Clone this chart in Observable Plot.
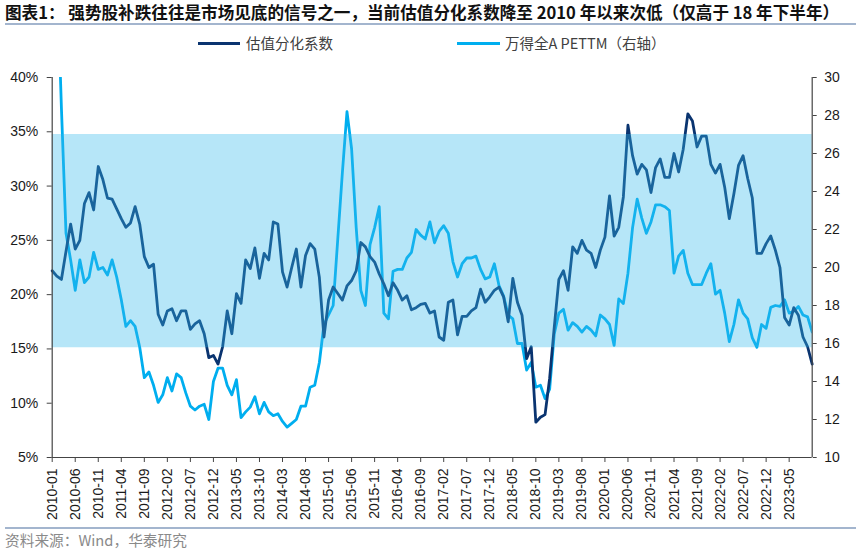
<!DOCTYPE html>
<html>
<head>
<meta charset="utf-8">
<script src="https://cdn.jsdelivr.net/npm/d3@7"></script>
<script src="https://cdn.jsdelivr.net/npm/@observablehq/plot@0.6"></script>
<style>
  body { margin:0; width:864px; height:552px; position:relative; background:#fff; overflow:hidden; }
  .abs { position:absolute; }
  #title { left:5px; top:2px; font-family:"Noto Sans CJK SC", sans-serif; font-weight:700; font-size:16.6px; color:#111; white-space:nowrap; line-height:20px; }
  .sep { left:5px; width:851px; height:2px; background:#a3b5ce; }
  .leg { top:33px; font-family:"Noto Sans CJK SC", sans-serif; font-size:14.5px; color:#404040; line-height:20px; white-space:nowrap; }
  .sw { position:absolute; height:3.5px; top:41.5px; }
  #foot { left:5px; top:530px; font-family:"Noto Sans CJK SC", sans-serif; font-size:14.7px; color:#8a8a8a; line-height:20px; white-space:nowrap; }
  #chart { left:0; top:60px; }
</style>
</head>
<body>
<div id="title" class="abs">图表1： 强势股补跌往往是市场见底的信号之一，当前估值分化系数降至 2010 年以来次低（仅高于 18 年下半年）</div>
<div class="abs sep" style="top:23px"></div>
<div class="sw" style="left:198px;width:42px;background:#0a3470"></div>
<div class="abs leg" style="left:246px">估值分化系数</div>
<div class="sw" style="left:457px;width:43px;background:#00aeef"></div>
<div class="abs leg" style="left:505px">万得全A PETTM（右轴）</div>
<div id="chart" class="abs"></div>
<div class="abs sep" style="top:527px"></div>
<div id="foot" class="abs">资料来源：Wind，华泰研究</div>
<script>
// 估值分化系数 (%), monthly from 2010-01 to 2023-10
const dispersion = [
 22.2,21.7,21.4,24.0,26.5,24.2,25.0,28.4,29.4,27.8,
 31.8,30.6,28.9,28.8,27.9,27.0,26.2,26.6,28.1,26.5,
 23.5,22.5,22.8,18.2,17.2,18.5,18.7,17.6,18.5,18.5,
 16.8,17.3,17.6,16.4,14.2,14.4,13.6,15.2,18.5,16.4,
 20.1,19.2,23.2,22.4,24.3,21.5,23.8,23.2,26.7,26.5,
 22.1,20.7,22.5,24.2,20.7,23.6,24.7,24.2,21.6,16.1,
 19.5,20.7,20.1,19.5,20.8,21.3,22.2,24.8,24.4,23.5,
 23.0,21.9,21.0,19.9,21.1,20.4,19.5,19.9,18.6,18.8,
 19.1,19.2,18.3,18.5,16.1,15.8,19.3,19.5,16.3,18.0,
 18.0,18.5,18.8,20.5,19.3,19.8,20.4,20.7,19.8,17.5,
 21.5,19.3,18.1,14.1,15.2,8.25,8.7,8.95,12.3,17.0,
 21.4,22.2,20.4,24.4,23.8,25.0,24.1,23.8,22.5,24.1,
 25.3,29.1,25.4,26.2,29.0,35.6,32.8,31.1,32.0,31.5,
 29.4,31.7,32.5,30.8,30.8,33.0,31.3,33.4,36.65,36.0,
 33.6,34.6,34.6,32.0,31.2,32.0,29.9,27.0,29.3,31.9,
 32.8,30.7,28.9,23.8,23.8,24.7,25.4,24.1,22.5,17.9,
 17.2,18.8,18.1,16.1,15.2,13.6
];
// 万得全A PETTM (right axis)
const pettm = [
 38,36,28.4,21.8,20.4,18.8,20.4,19.2,19.5,20.8,
 19.9,20.0,19.6,20.4,19.5,18.3,16.9,17.2,16.9,15.8,
 14.2,14.5,13.8,12.9,13.3,14.2,13.5,14.4,14.2,13.4,
 12.7,12.5,12.7,12.8,12.0,14.0,14.7,14.7,13.8,13.3,
 14.1,12.1,12.4,12.65,13.2,12.3,12.9,12.4,12.2,12.3,
 11.9,11.6,11.8,12.0,12.7,12.7,13.7,13.8,15.0,17.0,
 17.5,18.0,21.5,25.0,28.2,26.25,22.1,18.8,18.0,21.2,
 22.1,23.2,17.6,17.3,19.8,19.9,19.9,20.5,20.8,22.0,
 21.7,21.5,22.4,21.3,21.9,22.2,21.8,20.3,19.5,20.2,
 20.5,20.5,20.6,19.9,19.4,19.5,20.2,19.05,18.5,17.5,
 17.3,16.0,16.0,14.6,15.0,13.7,13.8,13.1,13.6,16.5,
 17.6,17.8,16.7,17.1,16.9,16.6,16.9,16.7,16.4,17.5,
 17.3,17.0,15.9,18.35,18.1,19.7,22.1,23.6,22.6,21.8,
 22.4,23.3,23.3,23.2,23.0,19.7,20.6,20.9,19.7,19.1,
 19.1,19.1,19.7,20.2,18.6,18.8,17.6,16.1,17.0,18.3,
 17.6,17.3,16.3,15.8,17.0,16.8,17.9,18.0,17.95,18.3,
 17.6,17.7,17.95,17.5,17.4,16.6
];
const xTicks = ["2010-01","2010-06","2010-11","2011-04","2011-09","2012-02","2012-07","2012-12",
 "2013-05","2013-10","2014-03","2014-08","2015-01","2015-06","2015-11","2016-04","2016-09",
 "2017-02","2017-07","2017-12","2018-05","2018-10","2019-03","2019-08","2020-01","2020-06",
 "2020-11","2021-04","2021-09","2022-02","2022-07","2022-12","2023-05"];
const leftTicks = [5,10,15,20,25,30,35,40];
const rightTicks = [10,12,14,16,18,20,22,24,26,28,30];
const band = [15.1, 34.75];

const months = [];
for (let i = 0; i < dispersion.length; i++) {
  const y = 2010 + Math.floor(i / 12), m = (i % 12) + 1;
  months.push(y + "-" + String(m).padStart(2, "0"));
}
// map right axis (10..30) onto left axis (5..40)
const toLeft = v => 5 + (v - 10) * 35 / 20;
const fromLeft = v => 10 + (v - 5) * 20 / 35;
const rows = months.map((m, i) => ({month: m, disp: dispersion[i], pe: toLeft(pettm[i])}));

const chart = Plot.plot({
  width: 864, height: 465,
  marginTop: 17, marginBottom: 68, marginLeft: 51.7, marginRight: 52.3,
  x: {type: "point", domain: months, padding: 0},
  y: {domain: [5, 40]},
  style: {fontFamily: "'Liberation Sans', Arial, sans-serif", fontSize: "14px", color: "#1a1a1a", background: "transparent", overflow: "visible"},
  marks: [
    Plot.line(rows, {x: "month", y: "pe", stroke: "#00aeef", strokeWidth: 2.8, clip: true}),
    Plot.line(rows, {x: "month", y: "disp", stroke: "#0a3470", strokeWidth: 2.8}),
    Plot.areaY(months, {x: d => d, y1: () => band[0], y2: () => band[1], fill: "#35bbec", fillOpacity: 0.36}),
    Plot.axisY({anchor: "left", ticks: leftTicks, tickFormat: d => d + "%", tickSize: 5, tickPadding: 9, label: null, stroke: "#444"}),
    Plot.axisY({anchor: "right", ticks: rightTicks.map(toLeft), tickFormat: d => String(Math.round(fromLeft(d))), tickSize: 4, tickPadding: 8, label: null, stroke: "#444"}),
    Plot.axisX({ticks: xTicks, tickRotate: -90, tickSize: 5, tickPadding: 6, label: null, stroke: "#444"}),
    Plot.ruleX([months[0], months[months.length - 1]], {stroke: "#444", strokeWidth: 1.2}),
    Plot.ruleY([5], {stroke: "#444", strokeWidth: 1.2})
  ]
});
document.getElementById("chart").appendChild(chart);
</script>
</body>
</html>
